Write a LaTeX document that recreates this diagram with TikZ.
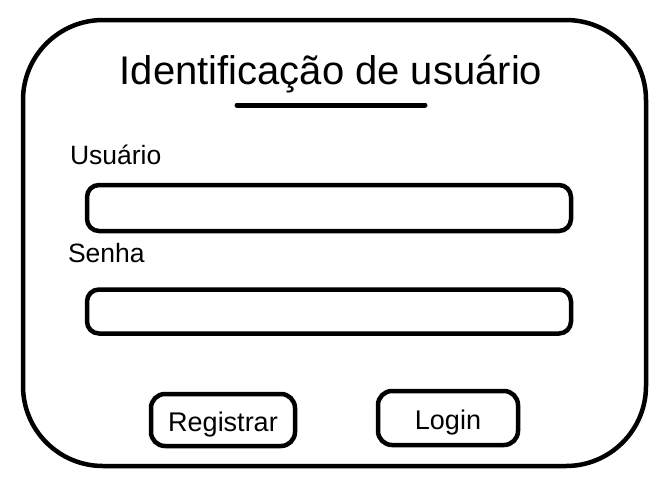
\documentclass[tikz,border=0pt]{standalone}
\usepackage{fontspec}
\setmainfont{Liberation Sans}
\usetikzlibrary{positioning}

\begin{document}
\begin{tikzpicture}[
        x=1pt, y=-1pt,
        nodes={inner sep=0pt, outer sep=0pt},
        box_style/.style={draw, line width=4.5pt, rounded corners=80pt},
        field_style/.style={draw, line width=4.5pt, rounded corners=12pt,
          minimum width=484pt},
        button_style/.style={draw, line width=4.5pt, rounded corners=14pt,
          text height=22pt, text depth=0pt,
          font={\fontsize{27}{30}\selectfont}},
        label_style/.style={anchor=base west, font={\fontsize{26.5}{30}\selectfont}}]

      \useasboundingbox (0,0) rectangle (669,485);

      % janela
      \node[box_style, minimum width=623pt, minimum height=446pt] (window) at (334.5,243) {};

      \node[anchor=base, font={\fontsize{40}{48}\selectfont}] (title) at (331,84) {Identificação de usuário};
      \coordinate (title_l) at (237,105);
      \coordinate (title_r) at (425,105);
      \draw[line width=5pt, line cap=round] (title_l) -- (title_r);

      \node[label_style] (user_label) at (70,164) {Usuário};
      \node[field_style, minimum height=46pt] (user_field) at (329,208) {};

      \node[label_style] (pass_label) at (68,262) {Senha};
      \node[field_style, minimum height=44pt] (pass_field) at (329,311.5) {};

      \node[button_style, minimum width=144pt, minimum height=52pt] (register) at (223,420) {Registrar};
      \node[button_style, minimum width=140pt, minimum height=54pt] (login) at (448,418) {Login};
    \end{tikzpicture}
\end{document}
